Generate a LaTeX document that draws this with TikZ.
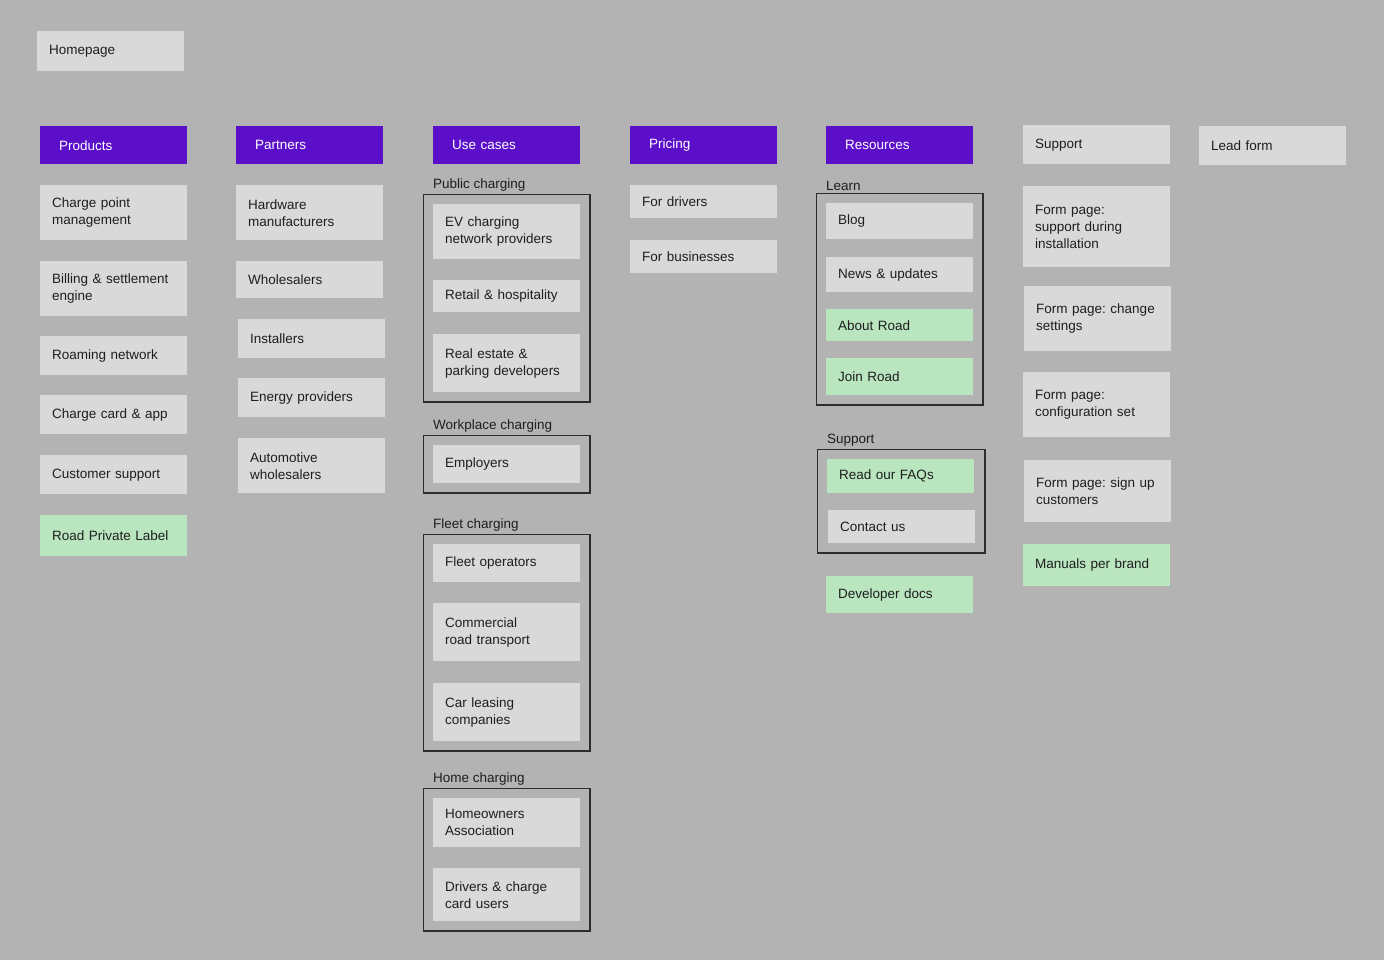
\documentclass[tikz,border=0pt]{standalone}
\usepackage{fontspec}
\setmainfont{Liberation Sans}
\usetikzlibrary{positioning,fit}
\definecolor{CanvasGray}{RGB}{179,179,179}
\definecolor{BoxGray}{RGB}{217,217,217}
\definecolor{RoadPurple}{RGB}{91,15,201}
\definecolor{RoadGreen}{RGB}{185,230,191}
\definecolor{FrameGray}{RGB}{45,45,45}
\definecolor{TextDark}{RGB}{30,30,30}
\frenchspacing

\begin{document}
\begin{tikzpicture}[
    x=1pt,
    y=-1pt,
    font=\fontsize{13.5}{17}\selectfont,
    item/.style={
        anchor=north west,
        minimum width=147pt,
        text width=123pt,
        inner xsep=12pt,
        align=left,
        fill=BoxGray,
        text=TextDark
    },
    head/.style={
        item,
        minimum height=38pt,
        text width=109pt,
        inner xsep=19pt,
        fill=RoadPurple,
        text=white
    },
    hit/.style={
        item,
        fill=RoadGreen
    },
    frame/.style={
        draw=FrameGray,
        line width=1.3pt,
        inner sep=9.5pt
    },
    group/.style={
        anchor=south west,
        inner xsep=10pt,
        inner ysep=2pt,
        text=TextDark
    }
]

\fill[CanvasGray] (0,0) rectangle (1384,960);

\node[item, minimum height=40pt] (home) at (37,31) {Homepage};

% top level
\node[head] (products) at (40,126) {Products};
\node[head] (partners) at (236,126) {Partners};
\node[head] (usecases) at (433,126) {Use cases};
\node[head] (pricing) at (630,126) {Pricing};
\node[head] (resources) at (826,126) {Resources};
\node[item, minimum height=39pt] (support) at (1023,125) {Support};
\node[item, minimum height=39pt] (leadform) at (1199,126) {Lead form};

% products
\node[item, minimum height=55pt] (cpm) at (40,185) {Charge point\\management};
\node[item, minimum height=55pt] (billing) at (40,261) {Billing \& settlement\\engine};
\node[item, minimum height=39pt] (roaming) at (40,336) {Roaming network};
\node[item, minimum height=39pt] (chargecard) at (40,395) {Charge card \& app};
\node[item, minimum height=39pt] (custsupport) at (40,455) {Customer support};
\node[hit, minimum height=41pt] (privlabel) at (40,515) {Road Private Label};

% partners
\node[item, minimum height=55pt] (hardware) at (236,185) {Hardware\\manufacturers};
\node[item, minimum height=37pt] (wholesalers) at (236,261) {Wholesalers};
\node[item, minimum height=39pt] (installers) at (238,319) {Installers};
\node[item, minimum height=39pt] (energy) at (238,378) {Energy providers};
\node[item, minimum height=55pt] (automotive) at (238,438) {Automotive\\wholesalers};

% use cases
\node[item, minimum height=55pt] (evnet) at (433,204) {EV charging\\network providers};
\node[item, minimum height=32pt] (retail) at (433,280) {Retail \& hospitality};
\node[item, minimum height=58pt] (realestate) at (433,334) {Real estate \&\\parking developers};
\node[frame, fit=(evnet)(realestate)] (pubframe) {};
\node[group] (publabel) at (pubframe.north west) {Public charging};

\node[item, minimum height=38pt] (employers) at (433,445) {Employers};
\node[frame, fit=(employers)] (workframe) {};
\node[group] (worklabel) at (workframe.north west) {Workplace charging};

\node[item, minimum height=38pt] (fleetops) at (433,544) {Fleet operators};
\node[item, minimum height=58pt] (commercial) at (433,603) {Commercial\\road transport};
\node[item, minimum height=58pt] (leasing) at (433,683) {Car leasing\\companies};
\node[frame, fit=(fleetops)(leasing)] (fleetframe) {};
\node[group] (fleetlabel) at (fleetframe.north west) {Fleet charging};

\node[item, minimum height=49pt] (homeowners) at (433,798) {Homeowners\\Association};
\node[item, minimum height=53pt] (drivers) at (433,868) {Drivers \& charge\\card users};
\node[frame, fit=(homeowners)(drivers)] (homeframe) {};
\node[group] (homelabel) at (homeframe.north west) {Home charging};

% pricing
\node[item, minimum height=33pt] (fordrivers) at (630,185) {For drivers};
\node[item, minimum height=33pt] (forbusiness) at (630,240) {For businesses};

% resources
\node[item, minimum height=36pt] (blog) at (826,203) {Blog};
\node[item, minimum height=35pt] (news) at (826,257) {News \& updates};
\node[hit, minimum height=32pt] (about) at (826,309) {About Road};
\node[hit, minimum height=37pt] (join) at (826,358) {Join Road};
\node[frame, fit=(blog)(join)] (learnframe) {};
\node[group] (learnlabel) at (learnframe.north west) {Learn};

\node[hit, minimum height=34pt] (faq) at (827,459) {Read our FAQs};
\node[item, minimum height=33pt] (contact) at (828,510) {Contact us};
\node[frame, fit=(faq)(contact)] (suppframe) {};
\node[group] (supplabel) at (suppframe.north west) {Support};

\node[hit, minimum height=37pt] (devdocs) at (826,576) {Developer docs};

% support forms
\node[item, minimum height=81pt] (formsupport) at (1023,186) {Form page:\\support during\\installation};
\node[item, minimum height=65pt] (formchange) at (1024,286) {Form page: change\\settings};
\node[item, minimum height=65pt] (formconfig) at (1023,372) {Form page:\\configuration set};
\node[item, minimum height=62pt] (formsignup) at (1024,460) {Form page: sign up\\customers};
\node[hit, minimum height=42pt] (manuals) at (1023,544) {Manuals per brand};

\end{tikzpicture}
\end{document}
